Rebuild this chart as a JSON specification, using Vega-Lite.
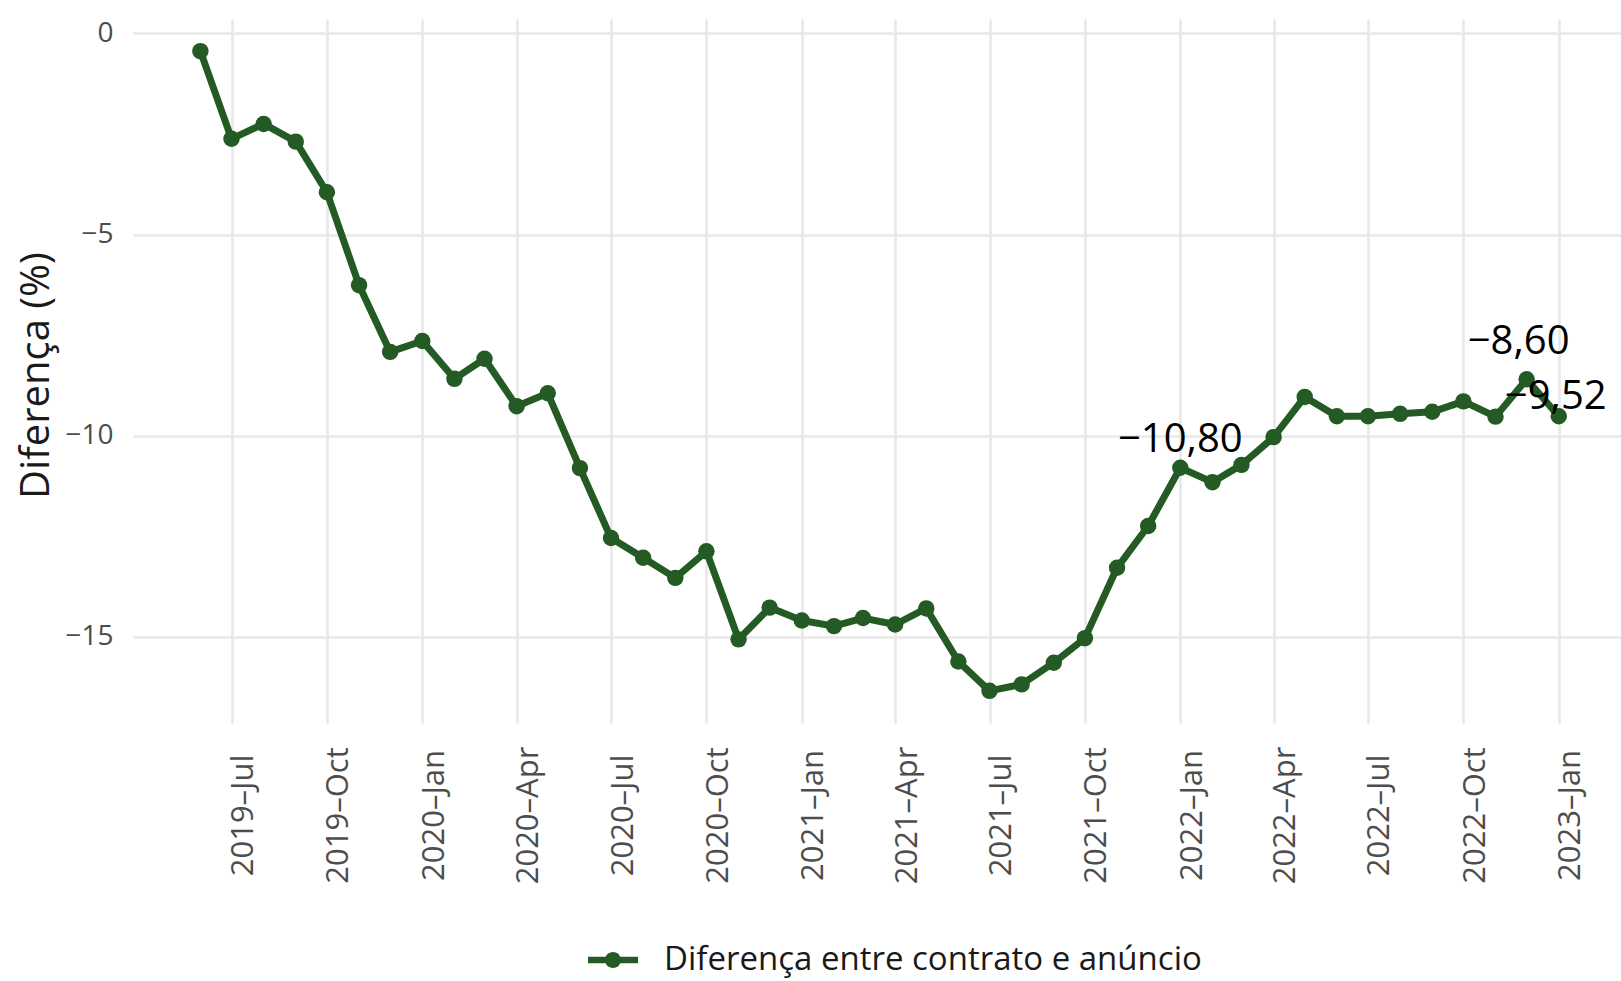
{
  "$schema": "https://vega.github.io/schema/vega-lite/v6.json",
  "autosize": {"type": "none"},
  "padding": {"left": 133, "top": 19, "right": 0, "bottom": 258},
  "width": 1488,
  "height": 704,
  "background": "white",
  "data": {
    "values": [
      {"date": "2019-06-01", "value": -0.44},
      {"date": "2019-07-01", "value": -2.62},
      {"date": "2019-08-01", "value": -2.25},
      {"date": "2019-09-01", "value": -2.69},
      {"date": "2019-10-01", "value": -3.95},
      {"date": "2019-11-01", "value": -6.26},
      {"date": "2019-12-01", "value": -7.92},
      {"date": "2020-01-01", "value": -7.65},
      {"date": "2020-02-01", "value": -8.59},
      {"date": "2020-03-01", "value": -8.09},
      {"date": "2020-04-01", "value": -9.27},
      {"date": "2020-05-01", "value": -8.95},
      {"date": "2020-06-01", "value": -10.81},
      {"date": "2020-07-01", "value": -12.55},
      {"date": "2020-08-01", "value": -13.04},
      {"date": "2020-09-01", "value": -13.54},
      {"date": "2020-10-01", "value": -12.88},
      {"date": "2020-11-01", "value": -15.07},
      {"date": "2020-12-01", "value": -14.28},
      {"date": "2021-01-01", "value": -14.60},
      {"date": "2021-02-01", "value": -14.74},
      {"date": "2021-03-01", "value": -14.54},
      {"date": "2021-04-01", "value": -14.70},
      {"date": "2021-05-01", "value": -14.30},
      {"date": "2021-06-01", "value": -15.62},
      {"date": "2021-07-01", "value": -16.35},
      {"date": "2021-08-01", "value": -16.19},
      {"date": "2021-09-01", "value": -15.65},
      {"date": "2021-10-01", "value": -15.04},
      {"date": "2021-11-01", "value": -13.29},
      {"date": "2021-12-01", "value": -12.25},
      {"date": "2022-01-01", "value": -10.80, "label": "−10,80"},
      {"date": "2022-02-01", "value": -11.16},
      {"date": "2022-03-01", "value": -10.73},
      {"date": "2022-04-01", "value": -10.04},
      {"date": "2022-05-01", "value": -9.04},
      {"date": "2022-06-01", "value": -9.52},
      {"date": "2022-07-01", "value": -9.52},
      {"date": "2022-08-01", "value": -9.46},
      {"date": "2022-09-01", "value": -9.41},
      {"date": "2022-10-01", "value": -9.15},
      {"date": "2022-11-01", "value": -9.53},
      {"date": "2022-12-01", "value": -8.60, "label": "−8,60"},
      {"date": "2023-01-01", "value": -9.52, "label": "−9,52"}
    ]
  },
  "encoding": {
    "x": {
      "field": "date",
      "type": "temporal",
      "scale": {
        "type": "utc",
        "domain": [
          {"year": 2019, "month": 3, "date": 28, "utc": true},
          {"year": 2023, "month": 3, "date": 2, "utc": true}
        ]
      },
      "axis": {
        "title": null,
        "labelExpr": "utcFormat(datum.value, '%Y–%b')",
        "values": [
          {"year": 2019, "month": 7, "date": 1, "utc": true},
          {"year": 2019, "month": 10, "date": 1, "utc": true},
          {"year": 2020, "month": 1, "date": 1, "utc": true},
          {"year": 2020, "month": 4, "date": 1, "utc": true},
          {"year": 2020, "month": 7, "date": 1, "utc": true},
          {"year": 2020, "month": 10, "date": 1, "utc": true},
          {"year": 2021, "month": 1, "date": 1, "utc": true},
          {"year": 2021, "month": 4, "date": 1, "utc": true},
          {"year": 2021, "month": 7, "date": 1, "utc": true},
          {"year": 2021, "month": 10, "date": 1, "utc": true},
          {"year": 2022, "month": 1, "date": 1, "utc": true},
          {"year": 2022, "month": 4, "date": 1, "utc": true},
          {"year": 2022, "month": 7, "date": 1, "utc": true},
          {"year": 2022, "month": 10, "date": 1, "utc": true},
          {"year": 2023, "month": 1, "date": 1, "utc": true}
        ],
        "labelAngle": -90,
        "labelAlign": "center",
        "labelBaseline": "alphabetic",
        "labelPadding": 92,
        "labelOffset": 21,
        "labelFontSize": 31,
        "labelOverlap": false,
        "labelFlush": false
      }
    },
    "y": {
      "field": "value",
      "type": "quantitative",
      "scale": {"domain": [-17.15, 0.36], "nice": false, "zero": false},
      "axis": {
        "title": "Diferença (%)",
        "values": [-15, -10, -5, 0],
        "labelPadding": 20,
        "labelFontSize": 28,
        "labelBaseline": "middle",
        "titleFontSize": 40,
        "titleFontWeight": "normal",
        "titleColor": "#1a1a1a",
        "titleAngle": -90,
        "titleAlign": "center",
        "titleBaseline": "alphabetic",
        "titleX": -85,
        "titleY": 356
      }
    }
  },
  "layer": [
    {
      "mark": {"type": "line", "strokeWidth": 7, "strokeJoin": "round", "strokeCap": "round"},
      "encoding": {
        "color": {
          "datum": "Diferença entre contrato e anúncio",
          "type": "nominal",
          "scale": {"range": ["#245a24"]},
          "legend": {
            "title": null,
            "orient": "none",
            "legendX": 455,
            "legendY": 916,
            "padding": 0,
            "symbolType": "M-1,-0.13H1V0.13H-1Z M0.32,0A0.32,0.32,0,1,1,-0.32,0A0.32,0.32,0,1,1,0.32,0Z",
            "symbolSize": 2500,
            "symbolFillColor": "#245a24",
            "symbolStrokeWidth": 0,
            "labelFontSize": 33,
            "labelOffset": 26,
            "labelColor": "#1a1a1a",
            "labelFont": "Open Sans",
            "labelLimit": 900,
            "encode": {
              "symbols": {"update": {"fill": {"value": "#245a24"}, "strokeWidth": {"value": 0}}}
            }
          }
        }
      }
    },
    {
      "mark": {"type": "point", "filled": true, "size": 270, "opacity": 1, "color": "#245a24"}
    },
    {
      "transform": [{"filter": "datum.label == '−10,80'"}],
      "mark": {"type": "text", "fontSize": 40, "font": "Open Sans", "color": "#000000", "align": "center", "baseline": "alphabetic", "dy": -16, "dx": 0},
      "encoding": {"text": {"field": "label"}}
    },
    {
      "transform": [{"filter": "datum.label == '−8,60'"}],
      "mark": {"type": "text", "fontSize": 40, "font": "Open Sans", "color": "#000000", "align": "center", "baseline": "alphabetic", "dy": -25, "dx": -8},
      "encoding": {"text": {"field": "label"}}
    },
    {
      "transform": [{"filter": "datum.label == '−9,52'"}],
      "mark": {"type": "text", "fontSize": 40, "font": "Open Sans", "color": "#000000", "align": "center", "baseline": "alphabetic", "dy": -7, "dx": -3},
      "encoding": {"text": {"field": "label"}}
    }
  ],
  "config": {
    "view": {"stroke": null},
    "font": "Open Sans",
    "axis": {
      "domain": false,
      "ticks": false,
      "grid": true,
      "gridColor": "#e8e8e8",
      "gridWidth": 2.6,
      "labelColor": "#4d4d4d",
      "labelFont": "Open Sans",
      "titleFont": "Open Sans"
    }
  }
}
